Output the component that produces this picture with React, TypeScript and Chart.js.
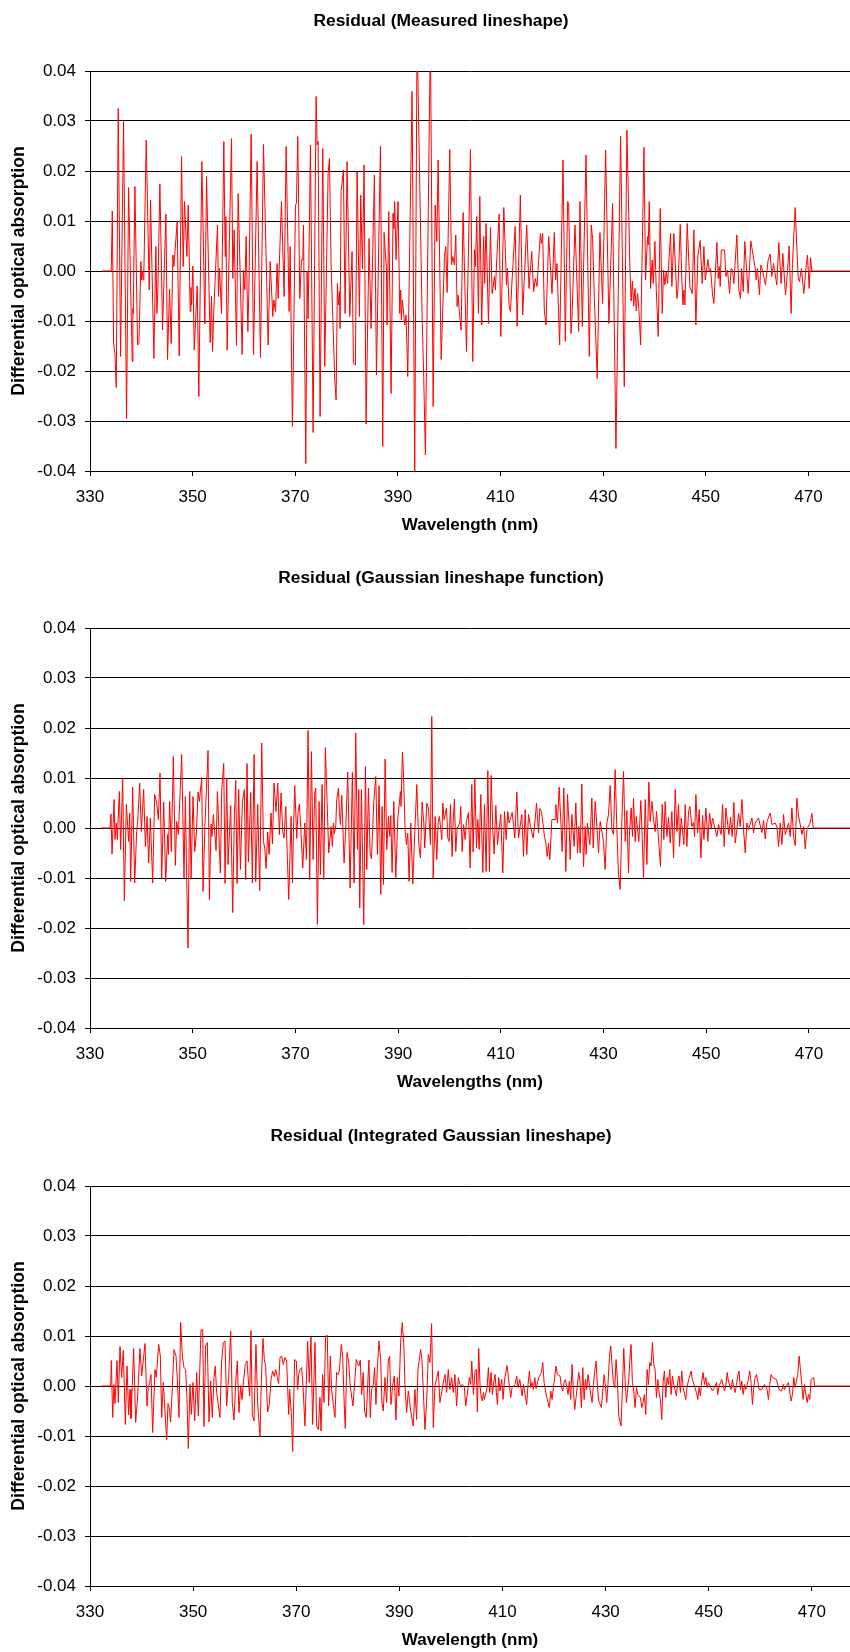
import React, { useEffect, useRef } from "react";
import { Chart, registerables } from "chart.js";

Chart.register(...registerables);

const FONT_FAMILY = "'Liberation Sans', Arial, Helvetica, sans-serif";

const wavelengthTicks = [330, 350, 370, 390, 410, 430, 450, 470];
const absorptionTicks = [-0.04, -0.03, -0.02, -0.01, 0, 0.01, 0.02, 0.03, 0.04];

// [wavelength (nm), residual]
const measuredResidual: [number, number][] = [
  [332.26,0],[334.14,0],[334.34,0.0120],[334.60,-0.0145],[334.86,-0.0165],[335.12,-0.0233],[335.50,0.0325],[335.96,-0.0171],[336.54,0.0299],[337.13,-0.0295],
  [337.52,0.0167],[338.23,-0.0181],[338.36,-0.0075],[338.43,-0.0085],[338.75,0.0169],[339.27,-0.0148],[339.53,-0.0145],[339.92,0.0019],[340.05,-0.0018],[340.24,-0.0001],
  [340.37,-0.0018],[340.50,-0.0001],[340.96,0.0262],[341.54,-0.0038],[341.80,0.0142],[342.45,-0.0175],[342.84,0.0049],[343.03,-0.0085],[343.23,-0.0038],[343.62,0.0174],
  [344.14,-0.0118],[344.79,0.0114],[345.11,-0.0177],[345.50,-0.0037],[345.83,-0.0145],[346.15,0.0032],[346.35,0.0009],[346.99,0.0099],[347.38,-0.0170],[347.84,0.0229],
  [348.16,0.0009],[348.42,0.0139],[348.88,0.0029],[349.14,0.0132],[349.53,-0.0081],[349.66,-0.0033],[349.79,-0.0068],[350.05,0.0010],[350.31,-0.0158],[350.89,-0.0030],
  [351.21,-0.0251],[351.80,0.0219],[352.38,-0.0106],[352.71,0.0189],[353.42,-0.0143],[353.68,-0.0051],[353.87,-0.0161],[354.13,-0.0078],[354.85,0.0092],[355.04,-0.0051],
  [355.24,0.0005],[355.63,-0.0085],[356.08,0.0259],[356.34,0.0029],[356.47,0.0109],[356.73,-0.0158],[357.57,0.0265],[357.83,-0.0015],[358.09,0.0082],[358.55,-0.0149],
  [358.87,0.0155],[359.65,-0.0167],[359.91,0.0002],[360.17,-0.0038],[360.43,0.0069],[360.76,-0.0121],[360.95,-0.0045],[361.41,0.0274],[361.86,-0.0168],[362.57,0.0219],
  [363.22,-0.0173],[363.81,0.0253],[364.72,-0.0148],[365.11,0.0019],[365.63,-0.0091],[365.82,-0.0058],[366.15,-0.0081],[366.47,0.0015],[366.66,-0.0055],[367.31,0.0139],
  [367.83,-0.0051],[368.22,0.0249],[368.80,-0.0081],[369.00,0.0049],[369.45,-0.0311],[370.04,0.0132],[370.23,0.0135],[370.49,0.0269],[370.88,-0.0055],[371.21,0.0023],
  [371.47,0.0022],[371.60,0.0092],[372.05,-0.0385],[372.31,-0.0001],[372.51,-0.0095],[372.96,0.0252],[373.48,-0.0323],[374.06,0.0349],[374.26,0.0252],[374.45,0.0259],
  [374.84,-0.0291],[375.36,0.0245],[375.75,-0.0191],[376.40,0.0195],[376.66,0.0225],[376.98,0.0015],[377.70,-0.0218],[377.96,-0.0258],[378.21,-0.0025],[378.41,-0.0068],
  [378.61,-0.0041],[378.74,-0.0115],[378.93,0.0159],[379.38,0.0202],[379.71,-0.0085],[380.10,0.0219],[380.62,-0.0091],[381.07,0.0039],[381.33,-0.0185],[381.72,-0.0188],
  [382.05,0.0199],[382.50,-0.0091],[382.76,0.0152],[383.09,0.0005],[383.41,0.0212],[383.80,-0.0306],[384.38,0.0065],[384.77,-0.0115],[385.42,0.0192],[385.82,-0.0208],
  [386.60,0.0249],[387.05,-0.0351],[387.31,0.0077],[387.57,0.0032],[387.76,0.0009],[387.89,-0.0108],[388.22,0.0119],[388.67,-0.0245],[389.06,0.0115],[389.19,0.0085],
  [389.38,0.0139],[389.64,0.0023],[390.03,0.0139],[390.36,-0.0085],[390.55,-0.0038],[390.68,-0.0098],[390.88,-0.0058],[391.33,-0.0108],[391.59,-0.0088],[391.92,-0.0211],
  [392.76,0.0359],[393.28,-0.0405],[393.73,0.0480],[394.71,-0.0085],[395.03,-0.0211],[395.36,-0.0368],[396.33,0.0480],[396.87,-0.0271],[397.26,0.0132],[397.58,0.0059],
  [397.84,0.0222],[398.43,-0.0177],[399.08,0.0029],[399.33,0.0049],[399.59,-0.0043],[400.11,0.0243],[400.44,0.0012],[400.70,0.0029],[401.02,0.0012],[401.28,0.0072],
  [401.54,-0.0071],[401.74,-0.0048],[401.93,-0.0075],[402.32,-0.0118],[402.71,0.0117],[403.36,-0.0161],[404.14,0.0243],[404.59,-0.0181],[404.92,0.0043],[405.11,0.0009],
  [405.37,0.0109],[405.70,-0.0085],[405.96,0.0149],[406.33,-0.0108],[406.71,0.0069],[406.91,-0.0025],[407.17,0.0095],[407.65,-0.0105],[408.04,0.0087],[408.36,-0.0045],
  [408.82,-0.0011],[409.01,-0.0038],[409.21,0.0012],[409.73,0.0114],[410.05,-0.0131],[410.64,0.0127],[411.16,-0.0028],[411.35,0.0005],[411.68,-0.0071],[411.94,-0.0081],
  [412.20,-0.0028],[412.85,0.0089],[413.24,-0.0111],[413.86,0.0152],[414.32,-0.0088],[414.58,-0.0028],[415.10,0.0092],[415.55,-0.0035],[416.07,0.0039],[416.46,-0.0041],
  [416.78,-0.0015],[417.11,-0.0031],[417.76,0.0075],[417.95,0.0055],[418.21,0.0075],[418.53,-0.0078],[418.86,-0.0108],[419.38,0.0069],[420.03,-0.0045],[420.48,0.0077],
  [420.74,-0.0018],[421.00,0.0015],[421.52,-0.0148],[422.17,0.0222],[422.62,-0.0141],[423.08,0.0139],[423.27,0.0135],[423.73,-0.0125],[423.92,-0.0095],[424.51,0.0092],
  [425.22,-0.0121],[425.48,0.0139],[425.94,-0.0111],[426.65,0.0232],[427.30,-0.0171],[427.68,0.0092],[427.94,0.0065],[428.27,-0.0051],[428.85,-0.0215],[429.37,0.0077],
  [429.89,-0.0065],[430.48,0.0242],[431.12,-0.0105],[431.84,0.0135],[432.49,-0.0355],[433.40,0.0270],[434.11,-0.0231],[434.63,0.0282],[435.22,0.0002],[435.45,-0.0060],
  [435.70,-0.0020],[435.95,-0.0070],[436.20,-0.0035],[436.45,-0.0080],[436.70,-0.0045],[436.95,-0.0075],[437.30,-0.0148],[437.95,0.0247],[438.26,-0.0018],[438.65,0.0069],
  [438.78,0.0052],[438.98,0.0139],[439.24,-0.0035],[439.56,0.0022],
  [439.76,-0.0025],[440.08,0.0059],[440.34,-0.0035],[440.73,-0.0131],[441.12,0.0125],[441.51,-0.0085],[441.77,0.0002],[442.03,-0.0028],[442.29,-0.0001],[442.55,-0.0025],
  [443.13,0.0075],[443.39,-0.0031],[443.78,0.0075],[444.37,-0.0055],[444.56,-0.0038],[445.02,0.0093],[445.34,-0.0018],[445.54,-0.0068],[445.73,-0.0038],[445.93,-0.0068],
  [446.38,0.0095],[446.90,-0.0031],[447.35,-0.0045],[447.68,0.0082],[448.07,-0.0108],[448.46,0.0032],[448.91,0.0061],[449.30,-0.0025],[449.63,0.0049],[449.89,-0.0018],
  [450.41,0.0023],[450.67,-0.0001],[450.93,0.0005],[451.32,-0.0048],[451.58,-0.0065],[452.16,0.0057],[452.42,-0.0015],[452.61,0.0009],[452.81,-0.0031],[453.01,0.0042],
  [453.66,0.0042],[453.92,-0.0011],[454.24,0.0002],[454.63,-0.0045],[454.95,0.0005],[455.21,0.0002],[455.47,-0.0025],[456.05,0.0072],[456.44,-0.0038],[456.77,-0.0055],
  [456.96,0.0005],[457.29,-0.0041],[457.61,0.0059],[457.87,0.0015],[458.26,-0.0045],[458.78,0.0060],[459.62,0.0005],[459.82,-0.0018],[460.07,0.0005],[460.46,-0.0048],
  [460.72,0.0012],[461.11,-0.0001],[461.63,-0.0028],[462.15,0.0022],[462.54,0.0034],[462.87,-0.0011],[463.19,0.0015],[463.84,-0.0028],[464.23,0.0057],[464.68,-0.0025],
  [465.01,0.0035],[465.53,-0.0048],[465.79,-0.0018],[466.24,0.0050],[466.63,-0.0085],[466.89,0.0015],[467.41,0.0127],[467.99,-0.0011],[468.25,-0.0021],[468.64,0.0005],
  [469.10,-0.0045],[469.49,0.0002],[469.81,0.0032],[470.14,-0.0035],[470.40,0.0027],[470.66,0],[480,0]
];

const gaussianResidual: [number, number][] = [
  [332.14,0],[333.90,0],[334.09,0.0028],[334.29,-0.0052],[334.68,0.0057],[334.87,-0.0023],[335.13,0.0010],[335.32,-0.0023],[335.71,0.0073],[335.97,-0.0043],
  [336.36,0.0100],[336.69,-0.0145],[337.08,0.0047],[337.53,-0.0027],[337.73,0.0030],[337.92,-0.0107],[338.31,0.0082],[338.70,-0.0110],[339.09,-0.0007],[339.29,0.0013],
  [339.68,0.0090],[340.00,-0.0007],[340.45,0.0077],[340.78,-0.0037],[341.10,0.0023],[341.43,-0.0070],[341.75,0.0020],[342.21,-0.0110],[342.60,0.0067],[342.99,0.0050],
  [343.31,0.0017],[343.64,0.0110],[343.96,-0.0100],[344.35,0.0052],[344.74,-0.0107],[345.13,-0.0013],[345.26,-0.0053],[345.52,0.0053],[345.84,-0.0047],[346.23,0.0143],
  [346.62,-0.0075],[346.88,0.0013],[347.21,-0.0013],[347.86,0.0147],[348.31,-0.0100],[348.57,0.0063],[348.83,-0.0100],[349.09,-0.0240],[349.42,0.0073],[349.68,-0.0100],
  [350.06,0.0063],[350.39,-0.0047],[350.71,-0.0012],[351.04,0.0072],[351.30,0.0053],[351.75,0.0101],[352.01,-0.0127],[352.40,0.0010],[352.99,0.0155],[353.25,-0.0143],
  [353.57,0.0008],[353.77,-0.0017],[354.03,0.0027],[354.55,-0.0045],[354.81,0.0073],[355.06,0.0010],[355.19,-0.0043],[355.39,-0.0090],[355.65,0.0075],[356.04,0.0129],
  [356.30,-0.0111],[356.62,0.0100],[356.88,-0.0073],[357.40,0.0045],[357.79,-0.0169],[358.12,0.0027],[358.38,0.0095],[358.64,-0.0111],[358.96,0.0077],[359.29,-0.0083],
  [359.68,0.0053],[360.06,0.0077],[360.32,-0.0103],[360.58,0.0129],[360.84,-0.0068],[361.30,0.0071],[361.62,-0.0110],[361.95,0.0147],[362.27,-0.0107],[362.66,0.0047],
  [363.05,-0.0125],[363.44,0.0170],[363.77,-0.0027],[364.03,-0.0040],[364.29,-0.0081],[364.61,-0.0008],[364.87,-0.0053],[365.26,0.0030],[365.52,-0.0032],[365.84,0.0090],
  [366.23,0.0033],[366.56,0.0090],[366.88,-0.0013],[367.21,0.0070],[367.53,-0.0007],[367.79,-0.0020],[368.12,0.0043],[368.38,-0.0043],[368.70,-0.0143],[369.16,0.0023],
  [369.42,-0.0110],[369.61,-0.0013],[369.87,0.0085],[370.26,-0.0021],[370.52,0.0033],[370.78,0.0048],[371.10,-0.0010],[371.43,-0.0080],[371.82,0.0010],[372.14,-0.0063],
  [372.47,0.0195],[372.79,-0.0103],[373.12,0.0153],[373.44,-0.0063],[373.77,0.0070],[373.96,0.0080],[374.29,-0.0193],[374.61,0.0053],[374.87,-0.0093],[375.19,0.0087],
  [375.52,-0.0103],[375.84,0.0161],[376.17,0.0053],[376.49,-0.0050],
  [376.95,0.0003],[377.21,-0.0037],[377.40,0.0010],[377.60,-0.0011],[377.86,0.0005],[378.05,0.0057],[378.38,0.0080],[378.57,0.0033],[378.77,0.0007],[379.03,0.0065],
  [379.48,-0.0070],[379.81,0],[380.19,0.0112],[380.65,-0.0120],[381.10,0.0111],[381.43,-0.0110],[381.75,0.0190],[382.08,-0.0043],[382.34,0.0077],[382.53,-0.0160],
  [382.86,0.0077],[383.31,-0.0193],[383.64,0.0123],[383.90,-0.0083],[384.22,0.0080],[384.55,-0.0050],[384.81,-0.0062],[385.26,0.0053],[385.65,0.0103],[385.97,-0.0053],
  [386.30,0.0085],[386.62,-0.0133],[386.88,0.0043],[387.14,-0.0113],[387.47,0.0138],[387.79,-0.0043],[388.12,0.0023],[388.38,-0.0017],[388.57,0.0025],[388.83,-0.0089],
  [389.16,0.0053],[389.55,-0.0099],[389.94,0.0018],[390.45,0.0073],[390.58,0.0043],[390.84,0.0152],[391.04,0.0110],[391.36,-0.0003],[391.62,-0.0033],[391.88,-0.0010],
  [392.14,-0.0107],[392.47,0.0010],[392.86,-0.0112],[393.25,-0.0007],[393.64,0.0087],[394.03,-0.0033],[394.35,-0.0060],[394.68,0.0052],[395.00,0.0010],[395.19,-0.0040],
  [395.58,0.0050],[395.91,0.0040],[396.30,-0.0033],[396.56,0.0223],[396.82,-0.0100],[397.21,0.0023],[397.53,-0.0063],[397.79,0.0010],[398.05,0.0023],[398.31,-0.0003],
  [398.51,-0.0023],[398.70,0.0050],[398.96,0.0017],[399.42,0.0040],[399.68,-0.0020],[399.94,-0.0027],[400.19,0.0047],[400.52,-0.0057],[400.71,0.0010],[400.97,0.0058],
  [401.23,-0.0047],[401.49,0],[402.01,0.0010],[402.21,0.0043],[402.47,-0.0047],[402.73,0.0007],[403.05,-0.0023],[403.31,0.0013],[403.70,0.0031],[404.03,-0.0080],
  [404.35,0.0087],[404.61,-0.0048],[404.94,0.0099],[405.26,-0.0040],[405.52,0.0017],[405.78,-0.0043],[406.10,0.0067],[406.49,-0.0089],[406.82,0.0047],[407.14,-0.0087],
  [407.47,0.0115],[407.79,-0.0087],[408.12,0.0105],[408.44,-0.0003],[408.70,-0.0052],[409.03,0.0045],[409.35,-0.0033],[409.68,0],[410.00,0.0027],[410.39,-0.0090],
  [410.71,0.0033],[411.04,-0.0023],[411.36,0.0033],[411.62,0.0010],[412.21,0.0031],[412.47,0.0007],[412.73,-0.0020],[413.12,0.0072],[413.44,-0.0020],[414.09,0.0027],
  [414.42,-0.0057],[414.74,0.0037],[415.06,-0.0053],[415.39,0.0027],[415.78,0.0003],[416.30,-0.0020],[416.69,0.0017],[416.95,0.0050],[417.34,-0.0010],[417.60,0.0039],
  [417.92,0.0033],[418.51,-0.0017],[418.77,-0.0030],[419.03,-0.0057],[419.29,-0.0030],[419.55,-0.0063],[419.94,0.0017],[420.58,0.0017],[420.71,0.0047],[421.04,0.0010],
  [421.36,0.0082],[421.69,0.0013],[421.95,-0.0047],[422.27,0.0080],[422.66,-0.0087],[422.99,0.0067],[423.31,0.0003],[423.51,-0.0063],[423.83,0.0027],[424.29,-0.0037],
  [424.61,0.0050],
  [424.94,-0.0050],[425.19,0.0003],[425.45,-0.0050],[425.78,0.0088],[426.10,-0.0077],[426.43,0.0003],[426.62,-0.0053],[426.88,0.0010],[427.34,-0.0033],[427.73,0.0060],
  [427.99,-0.0040],[428.38,0.0053],[429.03,-0.0050],[429.35,0.0013],[430.00,-0.0027],[430.32,-0.0083],[430.65,0.0010],[430.97,0.0027],[431.30,0.0085],[431.62,-0.0003],
  [431.95,-0.0013],[432.27,0.0117],[432.60,-0.0003],[432.92,-0.0093],[433.25,-0.0123],[433.57,0.0013],[433.90,0.0113],[434.22,-0.0027],[434.55,0.0035],[434.87,-0.0090],
  [435.06,-0.0010],[435.39,0.0040],[435.65,-0.0017],[435.84,0.0060],[436.17,-0.0027],[436.36,0.0023],[436.88,-0.0027],[437.27,0.0055],[437.53,-0.0017],[437.79,-0.0100],
  [438.12,0.0057],[438.44,-0.0073],[438.83,0.0092],[439.09,0.0013],[439.42,0.0053],[439.74,0.0017],[440.06,-0.0007],[440.32,0.0033],[440.84,-0.0040],[441.10,-0.0077],
  [441.43,0.0047],[441.75,-0.0023],[442.01,0.0053],[442.34,-0.0017],[442.66,0.0021],[442.99,-0.0030],[443.31,0.0033],[443.64,-0.0060],[443.96,0.0077],[444.29,-0.0007],
  [444.61,0.0047],[444.81,-0.0037],[445.13,0.0020],[445.65,-0.0033],[445.91,0.0047],[446.23,-0.0037],[446.56,0.0033],[446.82,0.0043],[447.21,0.0003],[447.53,0.0011],
  [447.73,-0.0017],[447.99,0.0067],[448.31,-0.0010],[448.64,0.0037],[448.96,-0.0060],[449.29,0.0025],[449.55,-0.0023],[449.94,0.0040],[450.32,-0.0027],[450.65,0.0030],
  [450.97,0],[451.23,0.0020],[451.75,-0.0003],[452.08,-0.0017],[452.40,0.0007],[452.92,-0.0013],[453.18,0.0047],[453.51,-0.0037],[453.83,0.0040],[454.16,0.0010],
  [454.42,-0.0013],[454.74,0.0022],[455.06,-0.0017],[455.39,0.0051],[455.65,-0.0030],[455.97,-0.0003],[456.30,0.0029],[456.62,0.0003],[456.95,0.0057],[457.27,-0.0002],
  [457.60,-0.0050],[457.92,0.0010],[458.25,-0.0003],[458.90,0.0020],[459.22,-0.0010],[459.55,0.0010],[460.19,0.0020],[460.84,-0.0009],[461.17,0.0015],[461.49,-0.0022],
  [461.82,0.0013],[462.47,0.0030],[462.79,0.0007],[463.44,0.0010],[463.77,0.0002],[464.09,-0.0037],[464.42,0.0010],[464.74,-0.0033],[465.06,0.0027],[465.39,-0.0013],
  [466.04,0.0010],[466.36,-0.0017],[466.69,0.0040],[467.01,-0.0017],[467.34,-0.0035],[467.66,0.0060],[467.99,0.0023],[468.31,0.0007],[468.64,-0.0013],[468.96,0.0003],
  [469.29,-0.0042],[469.61,-0.0003],[470.26,0.0011],[470.58,0.0029],[470.84,0],[480,0]
];

const integratedResidual: [number, number][] = [
  [332.26,0],[334.01,0],[334.14,0.0051],[334.40,-0.0063],[334.65,0.0003],[334.85,-0.0035],[335.24,0.0051],[335.49,-0.0033],[335.82,0.0079],[336.14,0.0017],
  [336.46,0.0071],[336.85,-0.0077],[337.18,0.0040],[337.50,-0.0058],[337.76,-0.0007],[337.95,-0.0065],[338.47,0.0075],[338.86,-0.0073],[339.24,-0.0020],[339.70,0.0075],
  [340.02,0.0020],[340.67,0.0085],[341.05,-0.0040],[341.31,-0.0003],[341.57,0.0007],[341.83,0.0023],[342.15,-0.0093],[342.60,0.0033],[342.86,0.0017],[343.32,0.0083],
  [343.64,0.0060],[343.90,-0.0063],[344.22,0.0007],[344.87,-0.0108],[345.13,-0.0035],[345.38,-0.0043],[345.64,-0.0072],[345.97,-0.0003],[346.29,0.0073],[346.68,0.0060],
  [346.94,0.0013],[347.26,-0.0063],[347.58,0.0127],[347.91,0.0060],[348.23,0.0037],[348.55,0.0033],[348.81,-0.0027],[349.07,-0.0125],[349.39,0.0003],[349.65,-0.0057],
  [349.97,0.0007],[350.30,-0.0070],[350.69,0.0027],[351.01,-0.0060],[351.53,0.0112],[351.85,0.0113],[352.11,-0.0081],[352.43,0.0080],[352.75,0.0087],[353.08,-0.0072],
  [353.40,0.0010],[353.72,-0.0063],[354.05,0.0017],[354.30,0.0040],[354.56,-0.0013],[354.89,-0.0037],[355.21,-0.0063],[355.53,0.0050],[355.86,0.0087],[356.18,0.0090],
  [356.50,-0.0040],[356.89,0.0017],[357.28,0.0110],[357.60,-0.0033],[357.92,-0.0068],[358.31,0.0015],[358.57,0.0050],[358.89,-0.0053],[359.22,0.0001],[359.48,-0.0027],
  [359.80,0.0013],[360.12,0.0043],[360.45,0.0050],[360.70,0.0013],[360.96,-0.0020],[361.22,0.0111],[361.48,-0.0057],[361.80,-0.0070],[362.19,0.0083],[362.51,-0.0033],
  [362.97,-0.0102],[363.22,0.0007],[363.55,0.0095],[363.81,0.0053],[364.07,0.0039],[364.45,-0.0052],[364.78,-0.0037],[365.10,0.0012],[365.42,0.0030],[365.75,0.0019],
  [366.00,0.0033],[366.33,0.0017],[366.59,0.0005],[366.85,0.0057],[367.17,0.0060],[367.49,0.0043],[367.81,0.0057],[368.14,0.0050],[368.53,-0.0057],[368.72,-0.0007],
  [369.04,-0.0053],[369.30,-0.0131],[369.69,0.0053],[370.01,0.0050],[370.27,-0.0007],[370.47,0.0023],[370.72,0.0033],[371.05,0.0037],[371.31,0],[371.69,-0.0080],
  [372.21,0.0090],[372.53,0.0007],[372.86,0.0098],[373.18,-0.0077],[373.63,0.0087],[373.96,-0.0080],[374.28,-0.0087],[374.60,-0.0023],[374.80,-0.0090],[375.12,0.0023],
  [375.38,-0.0033],[375.70,0.0100],[376.02,0.0101],[376.28,-0.0040],[376.61,0.0060],[376.86,-0.0007],[377.19,-0.0037],[377.51,-0.0063],[377.83,0.0027],[378.09,0.0023],
  [378.35,0.0030],[378.74,0.0083],[379.00,0.0060],[379.32,-0.0040],[379.51,-0.0085],[379.84,0.0067],[380.16,0.0050],[380.48,-0.0001],[381.00,-0.0040],[381.65,0.0053],
  [381.91,0.0043],[382.16,0.0040],[382.42,0.0052],[382.68,-0.0017],[383.00,0.0027],[383.26,-0.0050],[383.59,-0.0063],[383.85,0],[384.10,0.0052],[384.36,-0.0063],
  [384.62,-0.0007],[384.94,0.0003],[385.20,0.0037],[385.46,-0.0037],[385.72,0.0033],[386.04,0.0090],[386.37,0.0053],[386.62,-0.0033],[386.88,-0.0050],[387.21,0.0017],
  [387.53,-0.0033],[387.85,0.0050],[388.11,0.0060],[388.37,-0.0037],[388.69,0],[389.02,0.0020],[389.34,-0.0068],[389.60,0.0017],[389.92,-0.0020],[390.24,0.0087],
  [390.57,0.0127],[390.89,0.0077],[391.09,0],[391.41,-0.0053],[391.73,-0.0010],[392.38,-0.0063],[392.70,-0.0080],[393.02,-0.0007],[393.35,-0.0067],[393.61,0.0033],
  [394.12,0.0073],[394.38,0.0053],[394.64,-0.0007],[394.96,-0.0087],[395.29,-0.0033],[395.61,0.0063],[395.93,0.0047],[396.26,0.0125],[396.58,-0.0083],[396.90,0],
  [397.55,0.0030],[397.87,-0.0033],[398.52,0.0007],[398.84,0.0023],[399.17,-0.0013],[399.49,0.0033],[399.81,-0.0007],[400.13,0.0017],[400.46,-0.0013],[400.78,0.0023],
  [401.10,-0.0040],[401.43,0.0017],[401.75,0.0003],
  [401.97,0.0001],[402.23,0.0003],[402.61,-0.0003],[402.87,-0.0040],[403.13,-0.0020],[403.58,0.0017],[403.84,0.0003],[404.04,0.0050],[404.36,-0.0017],[404.68,0.0030],
  [404.94,0.0033],[405.13,-0.0052],[405.39,0.0075],[405.65,0],[405.85,-0.0020],[406.10,-0.0030],[406.30,-0.0013],[406.49,-0.0027],[407.01,-0.0003],[407.27,0.0037],
  [407.53,-0.0013],[407.79,0.0027],[408.04,-0.0017],[408.30,0.0007],[408.56,0.0023],[408.82,-0.0013],[409.01,-0.0037],[409.27,0.0017],[409.53,-0.0010],[409.86,0.0013],
  [410.11,-0.0027],[410.37,0.0010],[410.89,0.0041],[411.15,0.0017],[411.60,-0.0023],[411.86,-0.0003],[412.44,0.0003],[412.76,0.0020],[413.02,-0.0003],[413.35,0.0013],
  [413.80,-0.0020],[414.06,0.0003],[414.70,-0.0037],[414.96,0.0003],[415.22,0.0030],[415.48,-0.0003],[415.74,0.0007],[416.00,-0.0007],[416.26,0.0017],[416.52,-0.0005],
  [417.03,0.0017],[417.55,0.0027],[417.81,0.0047],[418.07,0.0007],[418.58,-0.0023],[419.10,-0.0043],[419.36,-0.0010],[419.62,-0.0027],[419.88,-0.0003],[420.39,0.0040],
  [420.65,0.0023],[421.17,0.0020],[421.43,-0.0003],[421.69,-0.0010],[421.95,0.0007],[422.21,0.0013],[422.72,-0.0017],[422.98,0.0010],[423.24,-0.0027],[423.50,0.0043],
  [423.76,-0.0010],[424.02,-0.0047],[424.27,-0.0023],[424.79,0.0027],[425.05,0.0007],[425.31,-0.0043],[425.57,0.0037],[425.83,-0.0027],[426.08,0.0013],[426.34,-0.0007],
  [426.60,0.0023],[427.12,-0.0017],[427.38,-0.0033],[427.64,0.0003],[427.90,0.0030],[428.15,0.0050],[428.41,0],[428.67,-0.0030],[429.19,-0.0043],[429.45,-0.0010],
  [429.71,0.0023],[429.96,0],[430.22,-0.0033],[430.48,0.0007],[430.74,0.0057],[431.00,0.0080],[431.26,0.0040],[431.52,0.0007],[431.78,-0.0003],[432.03,0.0053],
  [432.29,0.0013],[432.55,-0.0060],[433.00,-0.0080],[433.26,-0.0007],[433.52,0.0075],[433.78,0.0013],[434.04,-0.0033],[434.23,-0.0013],[434.49,0.0013],[434.75,0.0060],
  [434.94,0.0083],[435.20,0.0007],[435.46,-0.0010],[435.72,-0.0043],[435.98,-0.0003],[436.24,-0.0017],[436.75,-0.0023],[437.01,-0.0043],[437.27,-0.0033],[437.53,-0.0017],
  [437.79,-0.0057],[438.05,0.0033],[438.31,0.0003],[438.56,0.0047],[438.82,0.0040],[439.08,0.0087],[439.34,0.0043],[439.60,0.0033],[439.86,-0.0023],[440.12,0.0013],
  [440.37,-0.0013],[440.63,-0.0027],[440.89,-0.0067],[441.15,0.0007],[441.41,0.0030],[441.67,-0.0023],[441.93,0.0017],[442.19,0.0003],[442.44,0.0033],[442.70,-0.0017],
  [442.96,0.0020],[443.22,0.0003],[443.74,-0.0020],[444.00,0.0010],[444.25,0.0020],[444.51,-0.0013],[444.77,0.0030],[445.03,-0.0003],[445.55,-0.0027],[445.81,0],
  [446.32,0.0020],[446.58,0.0030],[446.84,0.0013],[447.62,-0.0013],[447.88,-0.0027],[448.13,-0.0003],[448.39,-0.0020],[448.65,0.0010],[448.91,0.0027],[449.17,0.0003],
  [449.43,0.0017],[449.69,-0.0003],[449.94,0.0007],[450.72,-0.0010],[451.24,0],[451.50,0.0007],[451.75,-0.0017],[452.01,0],[452.53,0.0013],[453.05,-0.0010],
  [453.31,0],[453.57,0.0027],[453.82,0.0010],[454.34,-0.0007],[454.60,0.0013],[454.86,-0.0003],[455.12,-0.0013],[455.38,0.0003],[455.63,0.0020],[455.89,0.0030],
  [456.15,-0.0007],[456.41,0.0010],[456.67,-0.0017],[456.93,0.0003],[457.19,-0.0007],[457.70,0.0013],[457.96,0.0030],[458.22,0.0007],[458.48,-0.0037],[458.74,-0.0003],
  [459.00,0.0017],[459.26,0.0023],[459.51,0.0010],[459.77,-0.0007],[460.29,-0.0007],[460.81,0.0003],[461.32,-0.0007],[461.58,-0.0027],[461.84,0.0003],[462.10,0.0023],
  [462.36,0.0017],[463.13,0.0013],[463.65,-0.0007],[464.17,-0.0010],[464.43,0.0003],[464.69,-0.0007],[465.46,0.0007],[465.98,-0.0030],[466.24,-0.0017],[466.50,0.0017],
  [466.76,-0.0003],[467.27,0.0023],[467.53,0.0060],[467.79,0.0033],[468.05,0.0003],[468.31,-0.0027],[468.57,0.0003],[469.08,-0.0033],[469.34,-0.0017],[469.60,-0.0027],
  [469.86,0.0013],[470.38,0.0017],[470.51,0],[480,0]
];

const Y_TITLE = "Differential optical absorption";

const panels = [
  { key: "measured", top: 0, title: "Residual (Measured lineshape)", xTitle: "Wavelength (nm)", xMax: 478.1, points: measuredResidual },
  { key: "gaussian", top: 557, title: "Residual (Gaussian lineshape function)", xTitle: "Wavelengths (nm)", xMax: 478.0, points: gaussianResidual },
  { key: "integrated", top: 1115, title: "Residual (Integrated Gaussian lineshape)", xTitle: "Wavelength (nm)", xMax: 477.4, points: integratedResidual },
];

const headingPlugin = {
  id: "heading",
  afterDraw(chart: any, _args: any, opts: any) {
    if (!opts || !opts.text) return;
    const ctx = chart.ctx;
    ctx.save();
    ctx.font = `bold ${opts.size}px ${FONT_FAMILY}`;
    ctx.fillStyle = "#000";
    ctx.textAlign = "center";
    ctx.textBaseline = "middle";
    ctx.fillText(opts.text, opts.x, opts.y);
    ctx.restore();
  },
};

const CANVAS_W = 850;
const CANVAS_H = 537;

function ResidualPanel(props: any) {
  const { top, title, xTitle, xMax, points } = props;
  const ref = useRef<HTMLCanvasElement | null>(null);

  useEffect(() => {
    if (!ref.current) return;
    const chart = new Chart(ref.current, {
      type: "line",
      data: {
        datasets: [
          {
            data: points.map(([x, y]: [number, number]) => ({ x, y })),
            borderColor: "#ff0000",
            borderWidth: 1,
            pointRadius: 0,
            pointHoverRadius: 0,
            tension: 0,
            fill: false,
          },
        ],
      },
      options: {
        responsive: false,
        animation: false,
        devicePixelRatio: 1,
        events: [],
        layout: { padding: { top: 71, left: 0, right: 0, bottom: 0 } },
        plugins: {
          legend: { display: false },
          tooltip: { enabled: false },
          title: { display: false },
          heading: { text: title, x: 441, y: 21, size: 17.4 },
        } as any,
        scales: {
          x: {
            type: "linear",
            min: 330,
            max: xMax,
            afterBuildTicks: (s: any) => {
              s.ticks = wavelengthTicks.map((v) => ({ value: v }));
            },
            afterFit: (s: any) => {
              s.height = 66;
            },
            grid: { drawOnChartArea: false, drawTicks: true, tickLength: 5, color: "#000", lineWidth: 1 },
            border: { display: true, color: "#000", width: 1 },
            ticks: {
              color: "#000",
              padding: 11,
              font: { family: FONT_FAMILY, size: 17 },
              maxRotation: 0,
              minRotation: 0,
              autoSkip: false,
              callback: (v: any) => String(v),
            },
            title: {
              display: true,
              text: xTitle,
              color: "#000",
              font: { family: FONT_FAMILY, size: 17, weight: "bold" },
              padding: { top: 0, bottom: 1 },
            },
          },
          y: {
            type: "linear",
            min: -0.04,
            max: 0.04,
            afterBuildTicks: (s: any) => {
              s.ticks = absorptionTicks.map((v) => ({ value: v }));
            },
            afterFit: (s: any) => {
              s.width = 90;
            },
            grid: { color: "#000", lineWidth: 1, tickLength: 5, drawTicks: true },
            border: { display: true, color: "#000", width: 1 },
            ticks: {
              color: "#000",
              padding: 9,
              font: { family: FONT_FAMILY, size: 17 },
              callback: (v: any) => (Math.round(Number(v) * 100) / 100).toFixed(2),
            },
            title: {
              display: true,
              text: Y_TITLE,
              color: "#000",
              font: { family: FONT_FAMILY, size: 17.6, weight: "bold" },
              padding: { top: 9, bottom: 0 },
            },
          },
        },
      } as any,
      plugins: [headingPlugin as any],
    });
    return () => chart.destroy();
  }, []);

  return (
    <canvas
      ref={ref}
      width={CANVAS_W}
      height={CANVAS_H}
      style={{ position: "absolute", left: 0, top, width: `${CANVAS_W}px`, height: `${CANVAS_H}px`, display: "block" }}
    />
  );
}

export default function App() {
  return (
    <div style={{ position: "absolute", left: 0, top: 0, width: 850, height: 1652, background: "#fff", overflow: "hidden" }}>
      {panels.map((p) => (
        <ResidualPanel key={p.key} {...p} />
      ))}
    </div>
  );
}
